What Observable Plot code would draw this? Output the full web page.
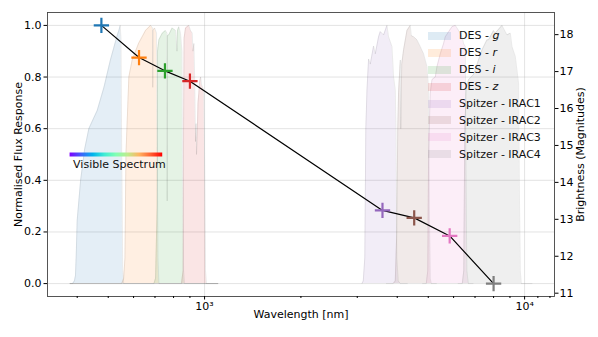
<!DOCTYPE html>
<html><head><meta charset="utf-8">
<script src="https://cdn.jsdelivr.net/npm/d3@7"></script>
<script src="https://cdn.jsdelivr.net/npm/@observablehq/plot@0.6"></script>
<style>
body{margin:0;background:#fff;}
#wrap{position:relative;width:598px;height:337px;font-family:"DejaVu Sans",sans-serif;}
.legend{position:absolute;left:428px;top:27.5px;font-size:11px;color:#111;}
.row{height:16.9px;display:flex;align-items:center;white-space:nowrap;}
.sw{width:23px;height:8px;margin-right:8px;}
</style></head><body><div id="wrap"></div>
<script>
// ---- data ----
const filterNames = ["DES - <i>g</i>","DES - <i>r</i>","DES - <i>i</i>","DES - <i>z</i>","Spitzer - IRAC1","Spitzer - IRAC2","Spitzer - IRAC3","Spitzer - IRAC4"];
const filterColors = ["#1f77b4","#ff7f0e","#2ca02c","#d62728","#9467bd","#8c564b","#e377c2","#7f7f7f"];

// filter response curves: [wavelength nm, normalised response]
const desG = [[380,0],[387,0],[392,0.01],[395,0.03],[397,0.1],[400,0.245],[410,0.40],[422,0.52],[435,0.60],[462,0.67],[485,0.76],[508,0.866],[534,0.963],[540,0.98],[545,1.0],[548,0.95],[551,0.5],[555,0.05],[559,0],[1100,0]];
const desR = [[380,0],[551,0],[559,0.02],[564,0.1],[566,0.3],[568,0.5],[574,0.65],[580,0.8],[594,0.866],[622,0.93],[654,0.98],[678,1.0],[688,0.99],[689,0.76],[690,0.98],[698,0.99],[708,0.97],[711,0.6],[715,0.1],[720,0],[1100,0]];
const desI = [[380,0],[695,0],[703,0.02],[711,0.3],[713,0.9],[720,0.944],[738,0.97],[755,0.98],[763,0.97],[764,0.32],[765,0.96],[773,0.963],[792,0.99],[812,0.98],[820,0.9],[823,0.98],[831,0.995],[841,0.97],[850,0.9],[853,0.5],[860,0.05],[866,0],[1100,0]];
const desZ = [[380,0],[847,0],[857,0.05],[860,0.6],[863,0.95],[872,0.99],[893,1.0],[904,0.98],[915,0.97],[920,0.9],[926,0.93],[931,0.8],[937,0.55],[941,0.62],[944,0.5],[949,0.58],[954,0.7],[960,0.74],[965,0.78],[972,0.8],[979,0.77],[986,0.76],[995,0.74],[1000,0.5],[1007,0.05],[1014,0],[1100,0]];
const irac1 = [[3104,0],[3133,0.01],[3168,0.1],[3191,0.6],[3218,0.75],[3255,0.87],[3295,0.85],[3374,0.92],[3416,0.89],[3498,0.956],[3541,0.976],[3627,0.963],[3715,1.0],[3758,0.956],[3851,0.918],[3896,0.80],[3944,0.75],[3964,0.6],[3987,0.1],[4030,0.01],[4089,0],[4300,0]];
const irac2 = [[3700,0],[3887,0],[3944,0.01],[3987,0.2],[4015,0.6],[4038,0.74],[4089,0.866],[4103,0.6],[4132,0.85],[4187,0.905],[4290,0.98],[4393,1.0],[4425,0.96],[4499,0.956],[4610,0.944],[4721,0.918],[4835,0.89],[4955,0.84],[5012,0.75],[5037,0.3],[5073,0.02],[5110,0],[5300,0]];
const irac3 = [[4800,0],[4930,0],[4983,0.05],[5012,0.5],[5073,0.737],[5136,0.79],[5260,0.80],[5324,0.84],[5453,0.89],[5585,0.93],[5653,0.956],[5932,0.995],[6075,1.0],[6221,0.98],[6375,0.956],[6449,0.93],[6528,0.918],[6551,0.5],[6600,0.05],[6671,0],[6900,0]];
const irac4 = [[6200,0],[6388,0],[6457,0.05],[6504,0.6],[6575,0.76],[6683,0.79],[6928,0.81],[7181,0.866],[7361,0.905],[7629,0.944],[7718,0.944],[8000,0.98],[8098,0.97],[8500,1.0],[8810,0.963],[9023,0.97],[9134,0.918],[9352,0.88],[9577,0.775],[9625,0.4],[9696,0.05],[9765,0],[10546,0]];
const filterCurves = [desG, desR, desI, desZ, irac1, irac2, irac3, irac4];

// photometry
const bandWavelength = [476, 624, 752, 900, 3597, 4519, 5833, 8000];
const bandMagnitude  = [18.25, 17.38, 17.02, 16.74, 13.24, 13.04, 12.55, 11.26];

// ticks
const fluxTicks = [0, 0.2, 0.4, 0.6, 0.8, 1.0];
const magTicks = [11, 12, 13, 14, 15, 16, 17, 18];
const majorXTicks = [1000, 10000];
const majorXLabels = ["10³", "10⁴"];
const minorXTicks = [400,500,600,700,800,900,2000,3000,4000,5000,6000,7000,8000,9000,11000,12000];

// visible spectrum annotation
const visibleRange = [380, 740];
const visibleLevel = 0.5;
const visibleLabel = "Visible Spectrum";

// ---- build ----
const mMin = d3.min(bandMagnitude), mMax = d3.max(bandMagnitude);
const norm = m => (m - mMin) / (mMax - mMin);
const points = bandWavelength.map((w, i) => ({w, flux: norm(bandMagnitude[i]), c: filterColors[i]}));
const magPos = magTicks.map(norm);

const areaMarks = [];
filterCurves.forEach((curve, i) => {
  areaMarks.push(Plot.areaY(curve, {x: d => d[0], y: d => d[1], fill: filterColors[i], fillOpacity: 0.12}));
});
filterCurves.forEach((curve) => {
  areaMarks.push(Plot.line(curve, {x: d => d[0], y: d => d[1], stroke: "#000", strokeOpacity: 0.1, strokeWidth: 0.8}));
});

const FS = 11;
const chart = Plot.plot({
  width: 598, height: 337,
  marginLeft: 47, marginRight: 44, marginTop: 12, marginBottom: 41,
  style: {fontFamily: "DejaVu Sans, sans-serif", fontSize: FS + "px", background: "white", color: "#000"},
  x: {type: "log", domain: [323, 12400], axis: null},
  y: {domain: [-0.05, 1.05], axis: null},
  color: {type: "identity"},
  marks: [
    Plot.gridY(fluxTicks, {stroke: "#b0b0b0", strokeOpacity: 0.45, strokeWidth: 0.8}),
    Plot.gridX(majorXTicks, {stroke: "#b0b0b0", strokeOpacity: 0.45, strokeWidth: 0.8}),
    ...areaMarks,
    Plot.ruleY([{x1: visibleRange[0], x2: visibleRange[1], y: visibleLevel}], {x1: "x1", x2: "x2", y: "y", stroke: "url(#visgrad)", strokeWidth: 4}),
    Plot.text([{x: visibleRange[0], y: visibleLevel, t: visibleLabel}], {x: "x", y: "y", text: "t", textAnchor: "start", dx: 3, dy: 10, fontSize: FS, fill: "#111"}),
    Plot.line(points, {x: "w", y: "flux", stroke: "#000", strokeWidth: 1.2}),
    Plot.dot(points, {x: "w", y: "flux", stroke: "c", symbol: "plus", r: 5, strokeWidth: 2.2}),
    Plot.frame({stroke: "#444", strokeWidth: 0.9}),
    Plot.axisY(fluxTicks, {anchor: "left", tickSize: 3.5, tickPadding: 2.5, tickFormat: d3.format(".1f"), label: null, fontSize: FS}),
    Plot.axisY(magPos, {anchor: "right", tickSize: 3.5, tickPadding: 1.5, tickFormat: d => String(Math.round(mMin + d * (mMax - mMin))), label: null, fontSize: FS}),
    Plot.axisX(majorXTicks, {anchor: "bottom", tickSize: 3.5, tickPadding: 2, tickFormat: d => majorXLabels[majorXTicks.indexOf(d)], label: null, fontSize: FS}),
    Plot.axisX(minorXTicks, {anchor: "bottom", tickSize: 2, tickFormat: () => "", label: null}),
    Plot.text(["Normalised Flux Response"], {text: d => d, frameAnchor: "left", textAnchor: "middle", dx: -29, rotate: -90, fontSize: FS}),
    Plot.text(["Brightness (Magnitudes)"], {text: d => d, frameAnchor: "right", textAnchor: "middle", dx: 26, rotate: -90, fontSize: FS}),
    Plot.text(["Wavelength [nm]"], {text: d => d, frameAnchor: "bottom", dy: 21, fontSize: FS})
  ]
});

// gradient for the visible spectrum bar (matplotlib 'rainbow')
const xs = chart.scale("x");
const defs = d3.select(chart).insert("defs", ":first-child");
const grad = defs.append("linearGradient").attr("id", "visgrad").attr("gradientUnits", "userSpaceOnUse")
  .attr("x1", xs.apply(visibleRange[0])).attr("x2", xs.apply(visibleRange[1])).attr("y1", 0).attr("y2", 0);
["#8000ff","#4062fa","#00b4ec","#40ecd4","#80ffb4","#bfec8e","#ffb462","#ff6232","#ff0000"].forEach((c, i, a) => {
  grad.append("stop").attr("offset", i / (a.length - 1)).attr("stop-color", c);
});

const wrap = document.getElementById("wrap");
wrap.appendChild(chart);

const legend = document.createElement("div");
legend.className = "legend";
filterNames.forEach((n, i) => {
  const row = document.createElement("div");
  row.className = "row";
  const sw = document.createElement("div");
  sw.className = "sw";
  sw.style.background = filterColors[i];
  sw.style.opacity = 0.15;
  const lab = document.createElement("span");
  lab.innerHTML = n;
  row.appendChild(sw); row.appendChild(lab);
  legend.appendChild(row);
});
wrap.appendChild(legend);
</script>
</body></html>
